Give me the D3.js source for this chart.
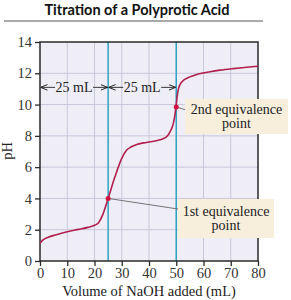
<!DOCTYPE html>
<html lang="en">
<head>
<meta charset="utf-8">
<title>Titration of a Polyprotic Acid</title>
<script src="https://d3js.org/d3.v7.min.js"></script>
<style>
  body { margin: 0; background: #fff; }
</style>
</head>
<body>
<svg id="chart" width="291" height="300"></svg>
<script>
    // titration curve
    const volume = [0, 1, 3, 6, 10, 14, 17.6, 20, 21.5, 23, 25, 27.5, 30, 31.8, 33.5, 35.5, 38, 40.4, 43, 45.2, 46.8, 47.7, 48.6, 49.2, 49.9, 50.4, 50.8, 52, 55, 58, 62.4, 66, 70.9, 75, 80];
    const pH = [1.13, 1.33, 1.52, 1.68, 1.87, 2.02, 2.15, 2.28, 2.45, 2.95, 4.0, 5.38, 6.56, 7.09, 7.3, 7.45, 7.55, 7.62, 7.7, 7.82, 8.0, 8.26, 8.6, 9.0, 9.85, 10.6, 11.0, 11.45, 11.77, 11.95, 12.1, 12.2, 12.3, 12.37, 12.45];
    const xTicks = [0, 10, 20, 30, 40, 50, 60, 70, 80];
    const yTicks = [0, 2, 4, 6, 8, 10, 12, 14];
    const equivVolumes = [25, 50];
    const equivPH = [4.0, 9.85];
    const equivLabels = [["1st equivalence", "point"], ["2nd equivalence", "point"]];

    const svg = d3.select("#chart");
    const plotL = 40, plotR = 258, plotT = 42, plotB = 261;
    const x = d3.scaleLinear().domain([0, 80]).range([plotL, plotR]);
    const y = d3.scaleLinear().domain([0, 14]).range([plotB, plotT]);
    const serif = '"Liberation Serif", "DejaVu Serif", serif';

    // title
    svg.append("text")
        .attr("x", 137).attr("y", 15)
        .attr("text-anchor", "middle")
        .attr("font-family", "Lato, 'Open Sans', sans-serif")
        .attr("font-weight", "bold")
        .attr("font-size", 14.5)
        .attr("fill", "#111")
        .text("Titration of a Polyprotic Acid");
    svg.append("line")
        .attr("x1", 4).attr("x2", 263).attr("y1", 21).attr("y2", 21)
        .attr("stroke", "#555").attr("stroke-width", 1);

    // plot background
    svg.append("rect")
        .attr("x", plotL).attr("y", plotT)
        .attr("width", plotR - plotL).attr("height", plotB - plotT)
        .attr("fill", "#efeef6");

    // grid
    svg.append("g").selectAll("line").data(xTicks.slice(1, -1)).join("line")
        .attr("x1", d => x(d)).attr("x2", d => x(d))
        .attr("y1", plotT).attr("y2", plotB)
        .attr("stroke", "#c9c7da").attr("stroke-width", 1);
    svg.append("g").selectAll("line").data(yTicks.slice(1, -1)).join("line")
        .attr("x1", plotL).attr("x2", plotR)
        .attr("y1", d => y(d)).attr("y2", d => y(d))
        .attr("stroke", "#c9c7da").attr("stroke-width", 1);

    // equivalence volume lines
    svg.append("g").selectAll("line").data(equivVolumes).join("line")
        .attr("x1", d => x(d)).attr("x2", d => x(d))
        .attr("y1", plotT).attr("y2", plotB)
        .attr("stroke", "#2fa3c4").attr("stroke-width", 1.5);

    // border
    svg.append("rect")
        .attr("x", plotL).attr("y", plotT)
        .attr("width", plotR - plotL).attr("height", plotB - plotT)
        .attr("fill", "none").attr("stroke", "#2a2a2a").attr("stroke-width", 1.5);

    // axes
    const styleAxis = g => {
        g.select(".domain").remove();
        g.selectAll("line").attr("stroke", "#2a2a2a").attr("stroke-width", 1.3);
        g.selectAll("text").attr("font-family", serif).attr("font-size", 14.5).attr("fill", "#333");
    };
    svg.append("g")
        .attr("transform", `translate(${plotL},0)`)
        .call(d3.axisLeft(y).tickValues(yTicks).tickSize(5).tickPadding(3))
        .call(styleAxis);
    svg.append("g")
        .attr("transform", `translate(0,${plotB})`)
        .call(d3.axisBottom(x).tickValues(xTicks).tickSize(5).tickPadding(2))
        .call(styleAxis);

    svg.append("text")
        .attr("transform", "translate(12,151) rotate(-90)")
        .attr("text-anchor", "middle")
        .attr("font-family", serif).attr("font-size", 14.5).attr("fill", "#222")
        .text("pH");
    svg.append("text")
        .attr("x", x(40)).attr("y", 296)
        .attr("text-anchor", "middle")
        .attr("font-family", serif).attr("font-size", 14.5).attr("fill", "#222")
        .text("Volume of NaOH added (mL)");

    // 25 mL arrows
    const defs = svg.append("defs");
    defs.append("marker")
        .attr("id", "arr").attr("viewBox", "0 0 10 10")
        .attr("refX", 10).attr("refY", 5)
        .attr("markerWidth", 7).attr("markerHeight", 7)
        .attr("markerUnits", "userSpaceOnUse")
        .attr("orient", "auto")
        .append("path").attr("d", "M0,1 L10,5 L0,9").attr("fill", "none").attr("stroke", "#222").attr("stroke-width", 1.4);
    const arrowY = y(11.1);
    const spans = [[0, 25], [25, 50]];
    spans.forEach(([a, b]) => {
        const mid = (x(a) + x(b)) / 2;
        const pad = 19;
        svg.append("line")
            .attr("x1", mid - pad).attr("x2", x(a) + 0.5)
            .attr("y1", arrowY).attr("y2", arrowY)
            .attr("stroke", "#222").attr("stroke-width", 0.9)
            .attr("marker-end", "url(#arr)");
        svg.append("line")
            .attr("x1", mid + pad).attr("x2", x(b) - 0.5)
            .attr("y1", arrowY).attr("y2", arrowY)
            .attr("stroke", "#222").attr("stroke-width", 0.9)
            .attr("marker-end", "url(#arr)");
        svg.append("text")
            .attr("x", mid).attr("y", arrowY + 4.5)
            .attr("text-anchor", "middle")
            .attr("font-family", serif).attr("font-size", 14).attr("fill", "#222")
            .text("25 mL");
    });

    // curve
    const pts = volume.map((v, i) => [v, pH[i]]);
    svg.append("path")
        .datum(pts)
        .attr("fill", "none")
        .attr("stroke", "#b01f4e")
        .attr("stroke-width", 1.6)
        .attr("d", d3.line().x(d => x(d[0])).y(d => y(d[1])).curve(d3.curveMonotoneX));

    // callouts
    const boxes = [
        { bx: 178, by: 199, bw: 96, bh: 39, lx: 178, ly: 209 },
        { bx: 185, by: 99, bw: 103, bh: 35, lx: 186, ly: 110 }
    ];
    boxes.forEach((b, i) => {
        svg.append("line")
            .attr("x1", x(equivVolumes[i])).attr("y1", y(equivPH[i]))
            .attr("x2", b.lx).attr("y2", b.ly)
            .attr("stroke", "#666").attr("stroke-width", 0.9);
        svg.append("rect")
            .attr("x", b.bx).attr("y", b.by)
            .attr("width", b.bw).attr("height", b.bh)
            .attr("fill", "#f7eedc");
        equivLabels[i].forEach((t, j) => {
            svg.append("text")
                .attr("x", b.bx + b.bw / 2).attr("y", b.by + (b.bh / 2 - 2) + (j === 0 ? -1 : 13))
                .attr("text-anchor", "middle")
                .attr("font-family", serif).attr("font-size", 14).attr("fill", "#222")
                .text(t);
        });
    });

    svg.append("g").selectAll("circle").data(equivVolumes).join("circle")
        .attr("cx", d => x(d)).attr("cy", (d, i) => y(equivPH[i]))
        .attr("r", 2.5).attr("fill", "#d01040");
</script>
</body>
</html>
